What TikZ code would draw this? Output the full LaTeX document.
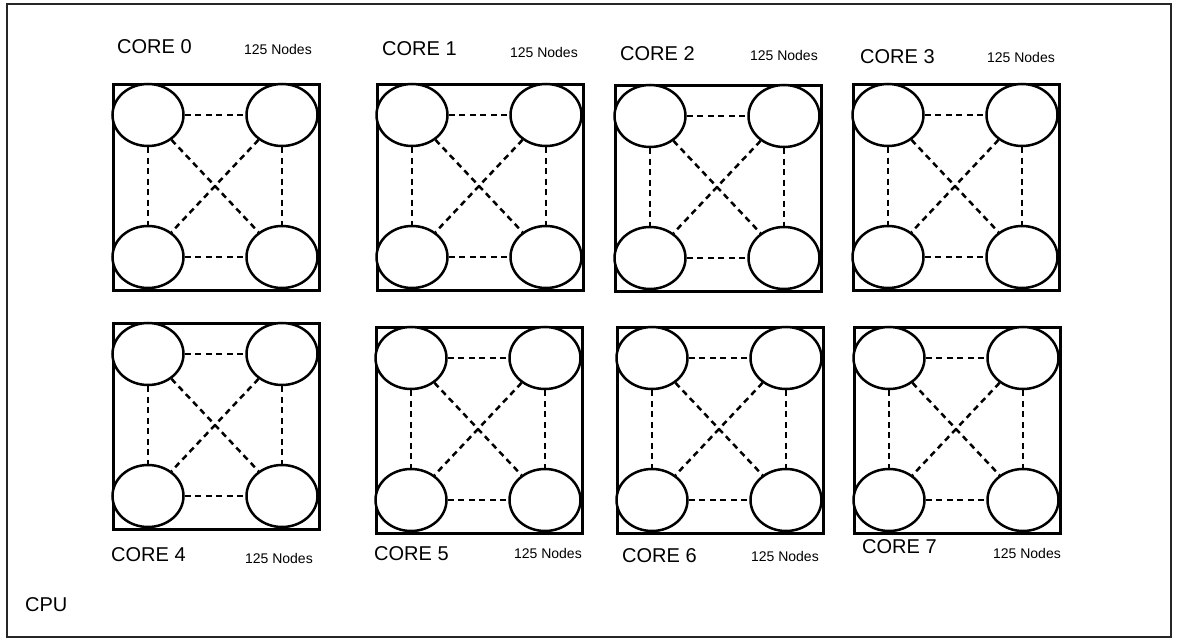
\documentclass[tikz,border=0pt]{standalone}
\usepackage{fontspec}
\setmainfont{Liberation Sans}
\usetikzlibrary{shapes.geometric}
\begin{document}
\begin{tikzpicture}[x=1pt, y=-1pt,
    corebox/.style={draw, line width=2.8pt, minimum size=206pt, inner sep=0pt, anchor=north west},
    proc/.style={draw, ellipse, line width=2.5pt, minimum width=71pt, minimum height=62pt, inner sep=0pt, fill=white},
    link/.style={line width=2.5pt, dash pattern=on 6pt off 4.5pt},
    corelbl/.style={anchor=west, inner sep=0pt, font=\fontsize{20}{24}\selectfont},
    cntlbl/.style={anchor=east, inner sep=0pt, font=\fontsize{14}{17}\selectfont}]
    \useasboundingbox (0,0) rectangle (1178,639);

    % CPU frame
    \draw[line width=2pt, black!85] (6.5,4.5) rectangle (1171,637);
    \node[corelbl] (cpu) at (25,605) {CPU};

    % Cores: number / box corner / label / node count
    \foreach \i/\bx/\by/\lx/\ly/\nx/\ny in {
        0/112/83/117/47/312/49, 1/376/83/382/49/578/52,
        2/614/84/620/54/818/55, 3/852/83/860/57/1055/57,
        4/112/322/111/555/313/558, 5/375/326/374/554/582/553,
        6/616/326/622/556/819/556, 7/853/326/862/547/1061/553} {
        \node[corebox] (core\i) at (\bx,\by) {};
        \node[proc] (core\i-tl) at (\bx+36,\by+32) {};
        \node[proc] (core\i-tr) at (\bx+170,\by+32) {};
        \node[proc] (core\i-bl) at (\bx+36,\by+174) {};
        \node[proc] (core\i-br) at (\bx+170,\by+174) {};

        \draw[link] (core\i-tl) -- (core\i-tr);
        \draw[link] (core\i-bl) -- (core\i-br);
        \draw[link] (core\i-tl) -- (core\i-bl);
        \draw[link] (core\i-tr) -- (core\i-br);
        \draw[link] (core\i-tl) -- (core\i-br);
        \draw[link] (core\i-tr) -- (core\i-bl);

        \node[corelbl] (lbl\i) at (\lx,\ly) {CORE \i};
        \node[cntlbl] (cnt\i) at (\nx,\ny) {125 Nodes};
    }
\end{tikzpicture}
\end{document}
